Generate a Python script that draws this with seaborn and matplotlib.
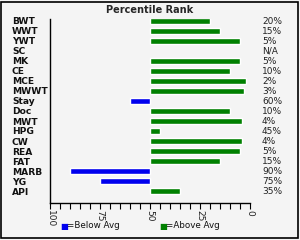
import matplotlib
matplotlib.use("Agg")
import matplotlib.pyplot as plt
import seaborn as sns
import numpy as np
import pandas as pd
from matplotlib.patches import Rectangle
from matplotlib.ticker import MultipleLocator, FixedLocator

categories = ["BWT", "WWT", "YWT", "SC", "MK", "CE", "MCE", "MWWT", "Stay", "Doc",
              "MWT", "HPG", "CW", "REA", "FAT", "MARB", "YG", "API"]
percentiles = [20, 15, 5, np.nan, 5, 10, 2, 3, 60, 10, 4, 45, 4, 5, 15, 90, 75, 35]
pct_labels = ["20%", "15%", "5%", "N/A", "5%", "10%", "2%", "3%", "60%", "10%",
              "4%", "45%", "4%", "5%", "15%", "90%", "75%", "35%"]
tick_values = [100, 75, 50, 25, 0]

BLUE = "#0000ee"
GREEN = "#008000"
BG = "#f4f4f4"

df = pd.DataFrame({"cat": categories, "pct": percentiles})
df["d"] = 50 - df["pct"]
df["group"] = np.where(df["pct"] > 50, "below", "above")

sns.set_theme(style="white")
plt.rcParams["font.family"] = ["DejaVu Sans"]

fig = plt.figure(figsize=(3.0, 2.4), dpi=100, facecolor=BG)
ax = fig.add_axes([50/300, 1-203/240, 200/300, (203-19)/240])
ax.set_facecolor(BG)

sns.barplot(data=df, x="d", y="cat", hue="group", palette={"below": BLUE, "above": GREEN},
            dodge=False, legend=False, width=0.55, ax=ax, orient="h", saturation=1)

ax.set_xlim(-50, 50)
ax.set_ylim(len(categories) - 1 + 1.2, -0.2)
ax.xaxis.set_major_locator(FixedLocator([50 - v for v in tick_values]))
ax.set_xticklabels([str(v) for v in tick_values], rotation=-90, fontsize=6.5, color="#222222")
ax.xaxis.set_minor_locator(MultipleLocator(5))
ax.tick_params(axis="x", which="both", direction="out", length=4, width=0.8, color="black",
               bottom=True, pad=1)
ax.set_xlabel("")
ax.set_ylabel("")

ax.tick_params(axis="y", length=0, pad=27.4, labelsize=6.6)
for lab in ax.get_yticklabels():
    lab.set_ha("left")
    lab.set_fontweight("bold")
    lab.set_color("#111111")

for s in ["top", "right"]:
    ax.spines[s].set_visible(False)
for s in ["left", "bottom"]:
    ax.spines[s].set_color("black")
    ax.spines[s].set_linewidth(1.0)

trans = matplotlib.transforms.blended_transform_factory(ax.transAxes, ax.transData)
for i, lab in enumerate(pct_labels):
    ax.text(1.06, i, lab, transform=trans, ha="left", va="center", fontsize=6.5, color="#222222")

fig.text(0.5, 1-10/240, "Percentile Rank", ha="center", va="center", fontsize=7, fontweight="bold")

fig.text(60/300, 1-226/240, "\u25a0", color=BLUE, fontsize=6, ha="left", va="center")
fig.text(67/300, 1-226/240, "=Below Avg", color="#111111", fontsize=6.3, ha="left", va="center")
fig.text(159/300, 1-226/240, "\u25a0", color=GREEN, fontsize=6, ha="left", va="center")
fig.text(166/300, 1-226/240, "=Above Avg", color="#111111", fontsize=6.3, ha="left", va="center")

fig.patches.append(Rectangle((1/300, 2/240), 297/300, 236/240, transform=fig.transFigure,
                             fill=False, edgecolor="black", linewidth=1.2))

fig.savefig("out.png", dpi=100, facecolor=BG)
